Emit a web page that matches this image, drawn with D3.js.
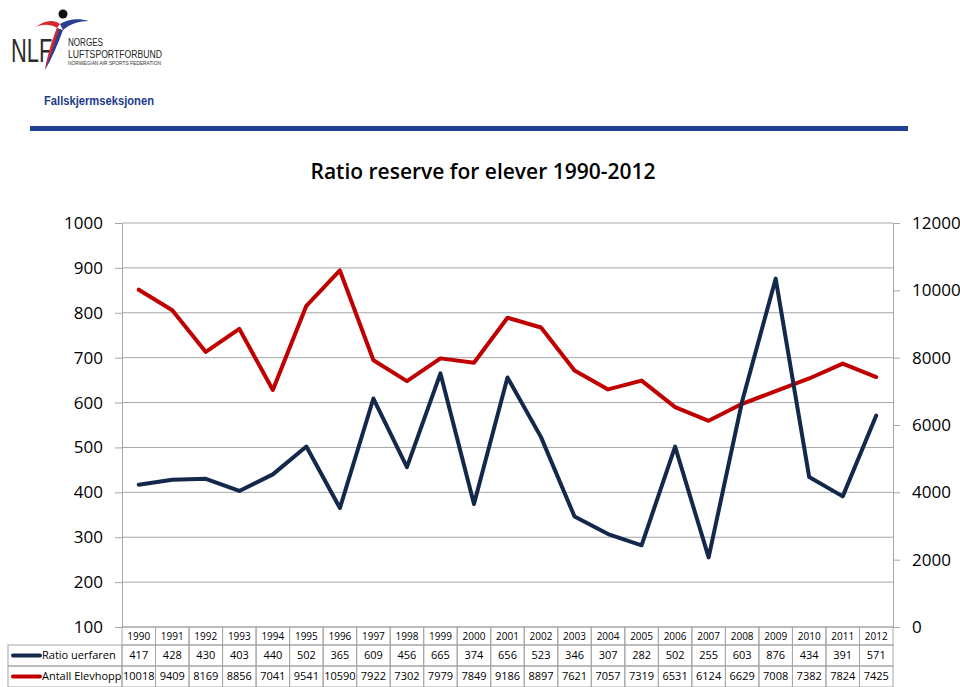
<!DOCTYPE html>
<html>
<head>
<meta charset="utf-8">
<script src="https://cdn.jsdelivr.net/npm/d3@7"></script>
<style>
  body { margin: 0; background: #fff; }
  svg { display: block; font-family: "Open Sans", "Noto Sans", sans-serif; }
</style>
</head>
<body>
<script>
// data
var years = ["1990","1991","1992","1993","1994","1995","1996","1997","1998","1999","2000","2001",
             "2002","2003","2004","2005","2006","2007","2008","2009","2010","2011","2012"];
var ratio = [417,428,430,403,440,502,365,609,456,665,374,656,523,346,307,282,502,255,603,876,434,391,571];
var elevhopp = [10018,9409,8169,8856,7041,9541,10590,7922,7302,7979,7849,9186,8897,7621,7057,7319,6531,6124,6629,7008,7382,7824,7425];
var leftTicks = [100,200,300,400,500,600,700,800,900,1000];
var rightTicks = [0,2000,4000,6000,8000,10000,12000];
var seriesNames = ["Ratio uerfaren", "Antall Elevhopp"];
var seriesColors = ["#13284a", "#c00000"];

var W = 960, H = 687;
var plot = {left: 122, right: 893, top: 223, bottom: 627};

var svg = d3.select("body").append("svg")
    .attr("width", W)
    .attr("height", H);

// ---- header: logo, section name, blue rule ----
var logo = svg.append("g");
logo.append("text")
    .attr("transform", "translate(11,62) scale(0.95,1.45)")
    .style("font-family", "'Liberation Sans', Arial, sans-serif")
    .style("font-size", "23px")
    .attr("fill", "#2b2b2b")
    .text("NLF");
// figure: red wing, blue wing, body, head
logo.append("path")
    .attr("d", "M36,27 C44,20 54,19 60,24 L57,28 C51,24 43,24 36,27 Z")
    .attr("fill", "#d9262b");
logo.append("path")
    .attr("d", "M60,24 C68,19 78,18 89,21 C79,21 70,24 63,30 Z")
    .attr("fill", "#2a3f93");
logo.append("path")
    .attr("d", "M57,28 L63,30 C58,44 52,58 45,70 C48,56 53,40 57,28 Z")
    .attr("fill", "#2a3f93");
logo.append("path")
    .attr("d", "M57,28 L59,29 C55,42 50,56 45,70 C47,56 52,40 57,28 Z")
    .attr("fill", "#d9262b");
logo.append("circle")
    .attr("cx", 63).attr("cy", 14).attr("r", 4.5)
    .attr("fill", "#111");

logo.append("text")
    .attr("x", 68).attr("y", 45.5)
    .style("font-family", "'Liberation Sans', sans-serif")
    .style("font-size", "10px")
    .attr("fill", "#222")
    .attr("textLength", 35)
    .attr("lengthAdjust", "spacingAndGlyphs")
    .text("NORGES");
logo.append("text")
    .attr("x", 68).attr("y", 57.5)
    .style("font-family", "'Liberation Sans', sans-serif")
    .style("font-size", "10px")
    .attr("fill", "#222")
    .attr("textLength", 94)
    .attr("lengthAdjust", "spacingAndGlyphs")
    .text("LUFTSPORTFORBUND");
logo.append("text")
    .attr("x", 68).attr("y", 64.5)
    .style("font-family", "'Liberation Sans', sans-serif")
    .style("font-size", "5px")
    .attr("fill", "#333")
    .attr("textLength", 93)
    .attr("lengthAdjust", "spacingAndGlyphs")
    .text("NORWEGIAN AIR SPORTS FEDERATION");

svg.append("text")
    .attr("x", 44).attr("y", 105)
    .style("font-family", "'Liberation Sans', Arial, sans-serif")
    .style("font-size", "13px")
    .style("font-weight", "bold")
    .attr("fill", "#1c3a8c")
    .attr("textLength", 110)
    .attr("lengthAdjust", "spacingAndGlyphs")
    .text("Fallskjermseksjonen");

svg.append("rect")
    .attr("x", 30).attr("y", 126)
    .attr("width", 878).attr("height", 5)
    .attr("fill", "#1e3f92");

// ---- title ----
svg.append("text")
    .attr("x", 483).attr("y", 179)
    .attr("text-anchor", "middle")
    .style("font-size", "21px")
    .style("font-weight", "600")
    .attr("fill", "#000")
    .attr("textLength", 345)
    .attr("lengthAdjust", "spacingAndGlyphs")
    .text("Ratio reserve for elever 1990-2012");

// ---- scales ----
var x = d3.scaleBand()
    .domain(years)
    .range([plot.left, plot.right]);

var yL = d3.scaleLinear()
    .domain([100, 1000])
    .range([plot.bottom, plot.top]);

var yR = d3.scaleLinear()
    .domain([0, 12000])
    .range([plot.bottom, plot.top]);

// gridlines
svg.append("g")
    .selectAll("line")
    .data(leftTicks)
    .enter().append("line")
    .attr("x1", plot.left).attr("x2", plot.right)
    .attr("y1", function(d) { return yL(d); })
    .attr("y2", function(d) { return yL(d); })
    .attr("stroke", "#a6a6a6")
    .attr("stroke-width", 1);

// left axis
var axL = svg.append("g")
    .attr("transform", "translate(" + plot.left + ",0)")
    .call(d3.axisLeft(yL).tickValues(leftTicks).tickSize(7).tickPadding(12).tickFormat(d3.format("d")));
axL.select(".domain").attr("stroke", "#a6a6a6");
axL.selectAll(".tick line").attr("stroke", "#a6a6a6");
axL.selectAll("text")
    .style("font-size", "17px")
    .style("font-family", "'Open Sans', sans-serif")
    .attr("fill", "#000");

// right axis
var axR = svg.append("g")
    .attr("transform", "translate(" + plot.right + ",0)")
    .call(d3.axisRight(yR).tickValues(rightTicks).tickSize(7).tickPadding(12).tickFormat(d3.format("d")));
axR.select(".domain").attr("stroke", "#a6a6a6");
axR.selectAll(".tick line").attr("stroke", "#a6a6a6");
axR.selectAll("text")
    .style("font-size", "17px")
    .style("font-family", "'Open Sans', sans-serif")
    .attr("fill", "#000");

// ---- lines ----
var cx = function(d, i) { return x(years[i]) + x.bandwidth() / 2; };

var lineRatio = d3.line()
    .x(cx)
    .y(function(d) { return yL(d); });

var lineElev = d3.line()
    .x(cx)
    .y(function(d) { return yR(d); });

svg.append("path")
    .datum(elevhopp)
    .attr("fill", "none")
    .attr("stroke", seriesColors[1])
    .attr("stroke-width", 4)
    .attr("stroke-linejoin", "round")
    .attr("stroke-linecap", "round")
    .attr("d", lineElev);

svg.append("path")
    .datum(ratio)
    .attr("fill", "none")
    .attr("stroke", seriesColors[0])
    .attr("stroke-width", 4)
    .attr("stroke-linejoin", "round")
    .attr("stroke-linecap", "round")
    .attr("d", lineRatio);

// ---- data table ----
var rowTop = [627, 645, 666], rowH = [18, 21, 21];
var labelLeft = 8;
var table = svg.append("g")
    .style("font-family", "'Open Sans', sans-serif")
    .style("font-size", "11px");

var rows = [years, ratio, elevhopp];
rows.forEach(function(vals, r) {
  var y0 = rowTop[r], h = rowH[r];
  if (r > 0) {
    table.append("rect")
      .attr("x", labelLeft).attr("y", y0)
      .attr("width", plot.left - labelLeft).attr("height", h)
      .attr("fill", "none").attr("stroke", "#a6a6a6");
    table.append("line")
      .attr("x1", 13).attr("x2", 40)
      .attr("y1", y0 + h / 2).attr("y2", y0 + h / 2)
      .attr("stroke", seriesColors[r - 1])
      .attr("stroke-width", 4)
      .attr("stroke-linecap", "round");
    table.append("text")
      .attr("x", 42).attr("y", y0 + h / 2)
      .attr("dy", "0.35em")
      .attr("fill", "#000")
      .text(seriesNames[r - 1]);
  }
  vals.forEach(function(v, i) {
    table.append("rect")
      .attr("x", x(years[i])).attr("y", y0)
      .attr("width", x.bandwidth()).attr("height", h)
      .attr("fill", "none").attr("stroke", "#a6a6a6");
    table.append("text")
      .attr("x", x(years[i]) + x.bandwidth() / 2)
      .attr("y", y0 + h / 2)
      .attr("dy", "0.35em")
      .attr("text-anchor", "middle")
      .style("font-size", r === 0 ? "10px" : "11px")
      .attr("fill", "#000")
      .text(v);
  });
});
</script>
</body>
</html>
